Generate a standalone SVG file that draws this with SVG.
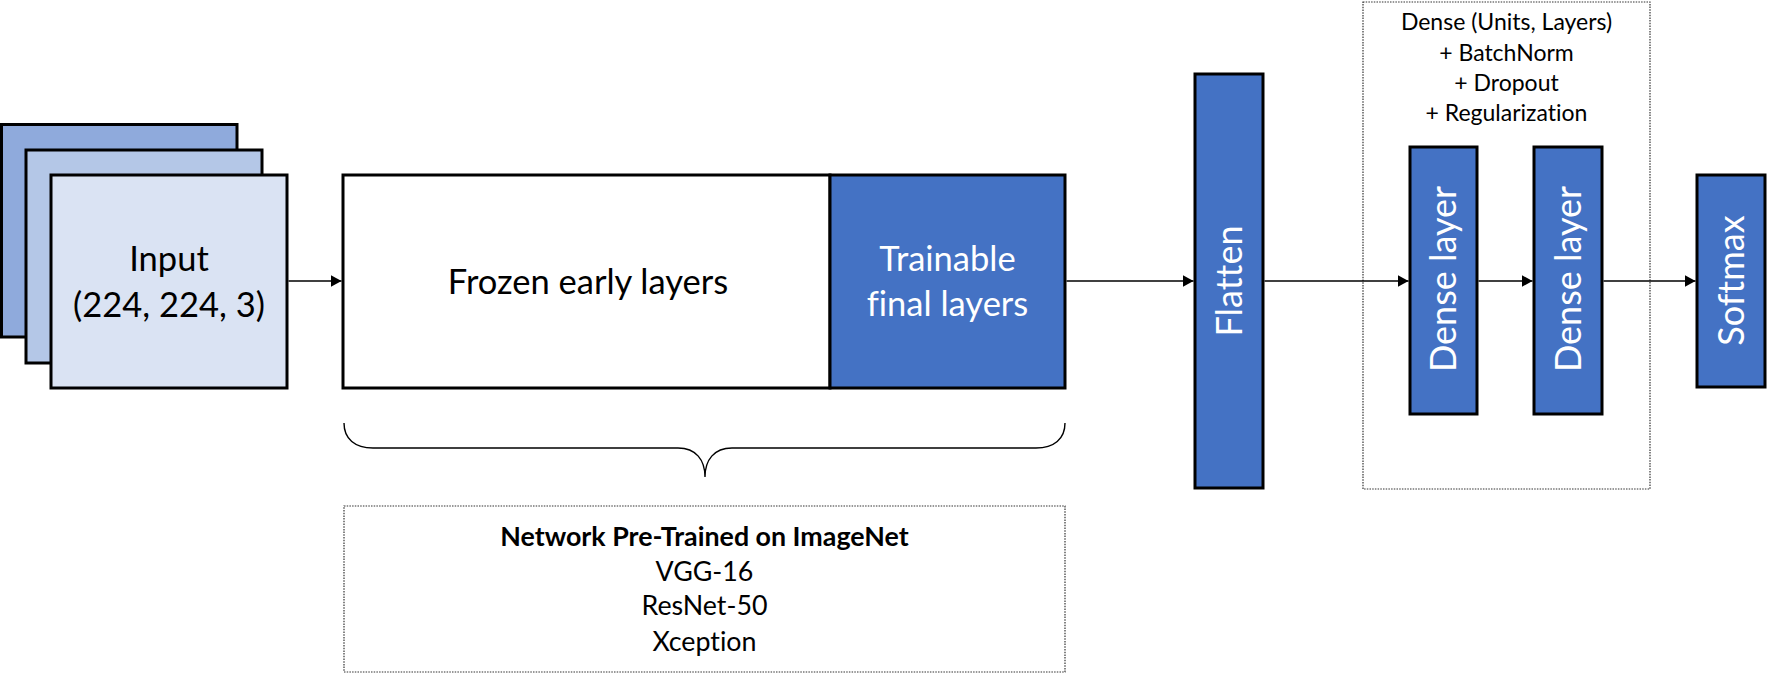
<svg xmlns="http://www.w3.org/2000/svg" width="1777" height="677" viewBox="0 0 1777 677">
<style>
  text { font-family: Lato, "Liberation Sans", sans-serif; fill: #000; font-variant-ligatures: none; }
  .box { stroke: #000; stroke-width: 3; }
  .blue { fill: #4472C4; }
  .big { font-size: 34.5px; }
  .rot { font-size: 36px; }
  .mid { font-size: 26.8px; }
  .small { font-size: 23px; }
  .w { fill: #fff; }
  .dot { fill: none; stroke: #333; stroke-width: 1.2; stroke-dasharray: 1.5 1.2; }
  .conn { stroke: #000; stroke-width: 1.4; fill: none; }
</style>
<defs>
  <marker id="arr" markerUnits="userSpaceOnUse" markerWidth="12" markerHeight="13" refX="11" refY="6" orient="auto">
    <path d="M0,0 L11,6 L0,12 z" fill="#000"/>
  </marker>
</defs>
<rect width="1777" height="677" fill="#fff"/>

<g id="input">
  <rect class="box" x="1.5" y="124.5" width="235.5" height="212.5" fill="#8FAADC"/>
  <rect class="box" x="26" y="150" width="236" height="213" fill="#B4C7E7"/>
  <rect class="box" x="51" y="175" width="236" height="213" fill="#DAE3F3"/>
  <text class="big" x="169" y="271" text-anchor="middle">Input</text>
  <text class="big" x="169" y="316.5" text-anchor="middle">(224, 224, 3)</text>
</g>

<g id="frozen">
  <rect class="box" x="343" y="175" width="487" height="213" fill="#fff"/>
  <text class="big" x="588" y="294" text-anchor="middle">Frozen early layers</text>
</g>

<g id="trainable">
  <rect class="box blue" x="830" y="175" width="235" height="213"/>
  <text class="big w" x="947.5" y="271" text-anchor="middle">Trainable</text>
  <text class="big w" x="947.5" y="315.5" text-anchor="middle">final layers</text>
</g>

<g id="brace">
  <path class="conn" d="M344,423 C344,439 355,448 373,448 L678,448 C696,448 705,460 705,477 C705,460 714,448 732,448 L1036,448 C1054,448 1065,439 1065,423"/>
</g>

<g id="pretrained">
  <rect class="dot" x="344" y="506" width="721" height="166"/>
  <text class="mid" x="704.5" y="545.5" text-anchor="middle" font-weight="bold">Network Pre-Trained on ImageNet</text>
  <text class="mid" x="704.5" y="581" text-anchor="middle">VGG-16</text>
  <text class="mid" x="704.5" y="614.5" text-anchor="middle">ResNet-50</text>
  <text class="mid" x="704.5" y="650.5" text-anchor="middle">Xception</text>
</g>

<g id="flatten">
  <rect class="box blue" x="1195" y="74" width="68" height="414"/>
  <text class="rot w" transform="translate(1242,281) rotate(-90)" text-anchor="middle">Flatten</text>
</g>

<g id="dense-group">
  <rect class="dot" x="1363" y="2" width="287" height="487"/>
  <text class="small" x="1506.5" y="30" text-anchor="middle">Dense (Units, Layers)</text>
  <text class="small" x="1506.5" y="60.5" text-anchor="middle">+ BatchNorm</text>
  <text class="small" x="1506.5" y="90.7" text-anchor="middle">+ Dropout</text>
  <text class="small" x="1506.5" y="121" text-anchor="middle">+ Regularization</text>
</g>

<g id="dense1">
  <rect class="box blue" x="1410" y="147" width="67" height="267"/>
  <text class="rot w" transform="translate(1456,279) rotate(-90)" text-anchor="middle">Dense layer</text>
</g>

<g id="dense2">
  <rect class="box blue" x="1534" y="147" width="68" height="267"/>
  <text class="rot w" transform="translate(1580.5,279) rotate(-90)" text-anchor="middle">Dense layer</text>
</g>

<g id="softmax">
  <rect class="box blue" x="1697" y="175" width="68" height="212"/>
  <text class="rot w" transform="translate(1744,280.5) rotate(-90)" text-anchor="middle">Softmax</text>
</g>

<g id="connectors">
  <line class="conn" x1="288.5" y1="281" x2="341.5" y2="281" marker-end="url(#arr)"/>
  <line class="conn" x1="1066.5" y1="281" x2="1193.5" y2="281" marker-end="url(#arr)"/>
  <line class="conn" x1="1264.5" y1="281" x2="1408.5" y2="281" marker-end="url(#arr)"/>
  <line class="conn" x1="1478.5" y1="281" x2="1532.5" y2="281" marker-end="url(#arr)"/>
  <line class="conn" x1="1603.5" y1="281" x2="1695.5" y2="281" marker-end="url(#arr)"/>
</g>
</svg>
